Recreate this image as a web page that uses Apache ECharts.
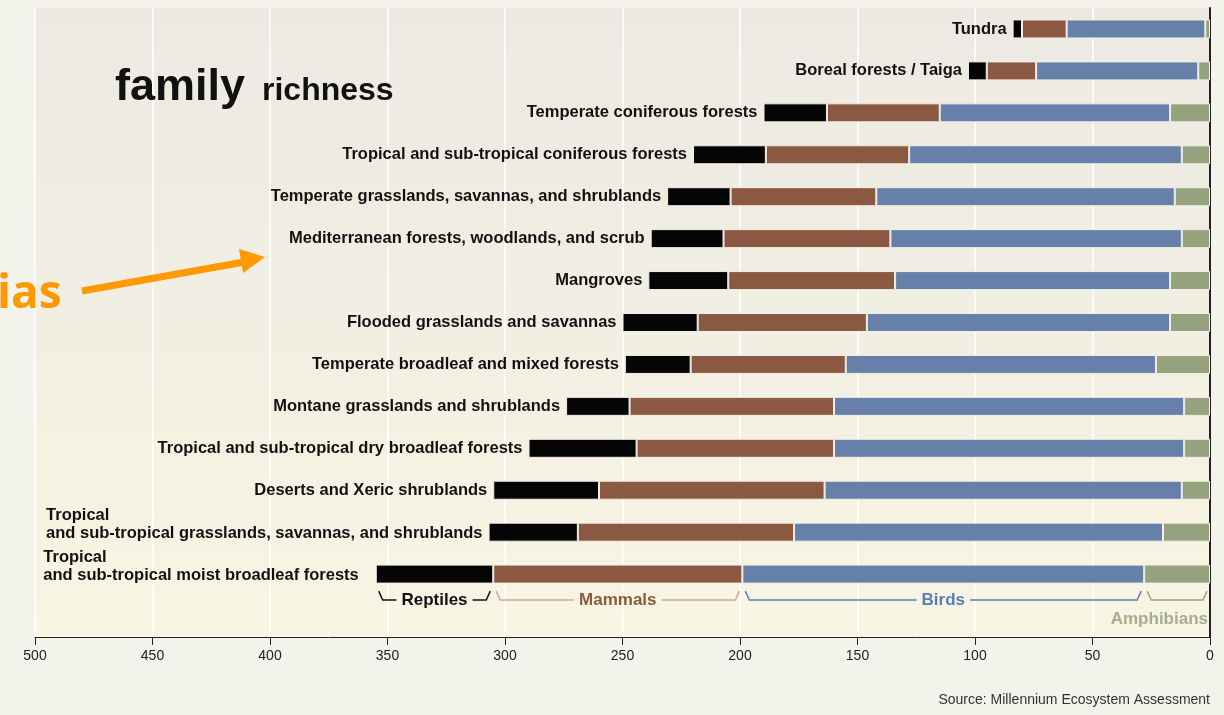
<!DOCTYPE html>
<html>
<head>
<meta charset="utf-8">
<script src="https://cdn.jsdelivr.net/npm/echarts@6/dist/echarts.min.js"></script>
<style>
html, body { margin: 0; padding: 0; background: #f3f2eb; }
#main { width: 1224px; height: 715px; }
</style>
</head>
<body>
<div id="main"></div>
<script>
// biomes, top to bottom
var biomes = [
    'Tundra',
    'Boreal forests / Taiga',
    'Temperate coniferous forests',
    'Tropical and sub-tropical coniferous forests',
    'Temperate grasslands, savannas, and shrublands',
    'Mediterranean forests, woodlands, and scrub',
    'Mangroves',
    'Flooded grasslands and savannas',
    'Temperate broadleaf and mixed forests',
    'Montane grasslands and shrublands',
    'Tropical and sub-tropical dry broadleaf forests',
    'Deserts and Xeric shrublands',
    'Tropical\nand sub-tropical grasslands, savannas, and shrublands',
    'Tropical\nand sub-tropical moist broadleaf forests'
];
var amphibians = [2, 5, 17, 12, 15, 12, 17, 17, 23, 11, 11, 12, 20, 28];
var birds      = [59, 69, 98, 116, 127, 124, 117, 129, 132, 149, 149, 152, 157, 171];
var mammals    = [19, 21, 48, 61, 62, 71, 71, 72, 66, 87, 84, 96, 92, 106];
var reptiles   = [4, 8, 27, 31, 27, 31, 34, 32, 28, 27, 46, 45, 38, 50];
var xTicks = [0, 500, 50];

var groups = ['Amphibians', 'Birds', 'Mammals', 'Reptiles'];
var colors = ['#95a27d', '#6680a9', '#8b5941', '#050505'];
var lineColors = ['#98a682', '#5b7cb5', '#c9ab9b', '#111111'];
var textColors = ['#a3af8d', '#5b7cb5', '#8b5941', '#111111'];

var labelFont = 'Liberation Sans';

var dom = document.getElementById('main');
var myChart = echarts.init(dom);

function makeSeries(name, values, idx) {
    var s = {
        name: name,
        type: 'bar',
        stack: 'all',
        barWidth: 19,
        data: values,
        itemStyle: {
            color: colors[idx],
            borderColor: '#f1efe6',
            borderWidth: 1
        },
        silent: true
    };
    return s;
}

var reptileData = reptiles.map(function (v, i) {
    if (biomes[i].indexOf('\n') >= 0) {
        return { value: v, label: { offset: [0, -8], distance: i === 13 ? 17 : 6 } };
    }
    return v;
});

var series = [
    makeSeries(groups[0], amphibians, 0),
    makeSeries(groups[1], birds, 1),
    makeSeries(groups[2], mammals, 2),
    makeSeries(groups[3], reptileData, 3)
];
series[3].label = {
    show: true,
    position: 'left',
    distance: 6,
    color: '#111',
    fontFamily: labelFont,
    fontWeight: 'bold',
    fontSize: 16.5,
    formatter: function (p) {
        var t = biomes[p.dataIndex];
        if (t.indexOf('\n') >= 0) {
            return t.split('\n').map(function (l) { return '{l|' + l + '}'; }).join('\n');
        }
        return t;
    },
    rich: {
        l: {
            align: 'left',
            color: '#111',
            fontFamily: labelFont,
            fontWeight: 'bold',
            fontSize: 16.5,
            lineHeight: 18
        }
    }
};

option = {
    backgroundColor: '#f3f2eb',
    animation: false,
    grid: {
        left: 35,
        right: 14,
        top: 8,
        bottom: 78,
        show: true,
        borderWidth: 0,
        backgroundColor: new echarts.graphic.LinearGradient(0, 0, 0, 1, [
            { offset: 0, color: '#ebe9e2' },
            { offset: 1, color: '#f8f5e3' }
        ])
    },
    xAxis: {
        type: 'value',
        inverse: true,
        min: xTicks[0],
        max: xTicks[1],
        interval: xTicks[2],
        axisLine: { show: true, lineStyle: { color: '#222', width: 1 } },
        axisTick: { show: true, length: 8, lineStyle: { color: '#222' } },
        axisLabel: {
            color: '#222',
            fontSize: 14,
            fontFamily: labelFont,
            margin: 12
        },
        splitLine: { show: true, lineStyle: { color: '#ffffff', width: 1.5 } }
    },
    yAxis: {
        type: 'category',
        data: biomes,
        inverse: true,
        position: 'right',
        max: biomes.length,
        axisLine: { show: true, onZero: false, lineStyle: { color: '#222', width: 2 } },
        axisTick: { show: false },
        axisLabel: { show: false },
        splitLine: { show: false }
    },
    series: series
};

if (option && typeof option === "object") {
    myChart.setOption(option, true);
}

// title, side note, source and the group braces under the last bar
var last = biomes.length - 1;
var rowValues = [amphibians[last], birds[last], mammals[last], reptiles[last]];
var yBar = myChart.convertToPixel({ yAxisIndex: 0 }, biomes[last]);
var yLine = yBar + 26;
var yHook = yBar + 17;
var graphics = [];
var acc = 0;
rowValues.forEach(function (v, i) {
    var xr = myChart.convertToPixel({ xAxisIndex: 0 }, acc);
    var xl = myChart.convertToPixel({ xAxisIndex: 0 }, acc + v);
    acc += v;
    var a = xl + 3, b = xr - 3;
    graphics.push({
        type: 'polyline',
        shape: { points: [[a, yHook], [a + 4, yLine], [b - 4, yLine], [b, yHook]] },
        style: { stroke: lineColors[i], lineWidth: 1.5, fill: null },
        silent: true
    });
    if (i === 0) {
        graphics.push({
            type: 'text',
            x: b + 1, y: yLine + 19,
            style: {
                text: groups[i], fill: textColors[i], align: 'right', verticalAlign: 'middle',
                font: 'bold 17px "' + labelFont + '"'
            },
            silent: true
        });
    } else {
        graphics.push({
            type: 'text',
            x: (a + b) / 2, y: yLine,
            style: {
                text: groups[i], fill: textColors[i], align: 'center', verticalAlign: 'middle',
                font: 'bold 17px "' + labelFont + '"',
                backgroundColor: '#f7f4e3', padding: [0, 5]
            },
            silent: true
        });
    }
});

graphics.push({
    type: 'text', x: 115, y: 110,
    style: { text: 'family', fill: '#111', font: 'bold 45px "Liberation Sans"', verticalAlign: 'bottom' },
    silent: true
});
graphics.push({
    type: 'text', x: 262, y: 107,
    style: { text: 'richness', fill: '#111', font: 'bold 32px "Liberation Sans"', verticalAlign: 'bottom' },
    silent: true
});
graphics.push({
    type: 'text', x: 1210, y: 700,
    style: {
        text: 'Source: Millennium Ecosystem Assessment', fill: '#333', align: 'right',
        verticalAlign: 'middle', font: '14px "' + labelFont + '"'
    },
    silent: true
});
graphics.push({
    type: 'text', x: -3, y: 295,
    style: { text: 'ias', fill: '#ff9900', font: 'bold 46px "Open Sans"', verticalAlign: 'middle' },
    silent: true
});
graphics.push({
    type: 'line',
    shape: { x1: 82, y1: 291, x2: 244, y2: 262 },
    style: { stroke: '#ff9900', lineWidth: 7 },
    silent: true
});
graphics.push({
    type: 'polygon',
    shape: { points: [[239, 249], [265, 257], [243, 273]] },
    style: { fill: '#ff9900' },
    silent: true
});

myChart.setOption({ graphic: graphics });
</script>
</body>
</html>
